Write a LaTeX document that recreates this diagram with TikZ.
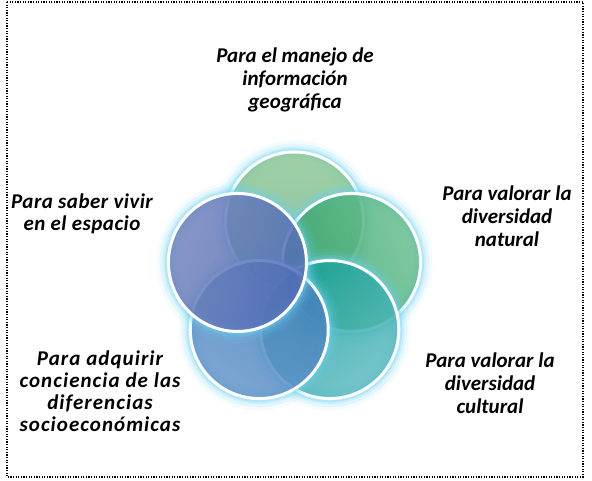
\documentclass[tikz,border=0pt]{standalone}
\usepackage{fontspec}
\setmainfont{Carlito}
\usetikzlibrary{calc}
\definecolor{glowc}{HTML}{6ED3F3}
\definecolor{topout}{HTML}{8FC899}\definecolor{topin}{HTML}{73B786}
\definecolor{urout}{HTML}{6AC092}\definecolor{urin}{HTML}{30A167}
\definecolor{lrout}{HTML}{60BCC2}\definecolor{lrin}{HTML}{18A095}
\definecolor{llout}{HTML}{6596CA}\definecolor{llin}{HTML}{427FBC}
\definecolor{ulout}{HTML}{7284BE}\definecolor{ulin}{HTML}{506AB3}
\tikzset{
  ring/.style={circle, inner sep=0pt, minimum size=138pt,
    preaction={draw=glowc, line width=24pt, draw opacity=0.08},
    preaction={draw=glowc, line width=17pt, draw opacity=0.13},
    preaction={draw=glowc, line width=11pt, draw opacity=0.2},
    preaction={draw=glowc, line width=7pt, draw opacity=0.3},
    shading=axis, fill opacity=0.85, draw=white, draw opacity=1, line width=3pt},
  lbl/.style={align=center, font=\fontsize{21}{23}\selectfont\bfseries\itshape, text=black},
  wlbl/.style={lbl, font=\fontsize{21}{22}\selectfont\bfseries\itshape\addfontfeatures{LetterSpace=5}},
  mlbl/.style={lbl, font=\fontsize{21}{22}\selectfont\bfseries\itshape\addfontfeatures{LetterSpace=2.3}}
}
\begin{document}
\begin{tikzpicture}[x=1pt,y=1pt]
\useasboundingbox (0,0) rectangle (592,480);
\draw[line width=1.3pt, dash pattern=on 1.3pt off 1.3pt] (7,478) rectangle (583,3);
\coordinate (ctr) at (294.5,199);
\node[ring, top color=topout, bottom color=topin, shading angle=0] (c1) at ($(ctr)+(90:60)$) {};
\node[ring, top color=urout, bottom color=urin, shading angle=-72] (c2) at ($(ctr)+(18:60)$) {};
\node[ring, top color=lrout, bottom color=lrin, shading angle=-144] (c3) at ($(ctr)+(-54:60)$) {};
\node[ring, top color=llout, bottom color=llin, shading angle=144] (c4) at ($(ctr)+(234:60)$) {};
\node[ring, top color=ulout, bottom color=ulin, shading angle=72] (c5) at ($(ctr)+(162:60)$) {};
\node[lbl] (t1) at (295,400) {Para el manejo de\\información\\geográfica};
\node[lbl] (t2) at (507,264) {Para valorar la\\diversidad\\natural};
\node[lbl] (t3) at (490,97) {Para valorar la\\diversidad\\cultural};
\node[wlbl] (t4) at (100,89) {Para adquirir\\conciencia de las\\diferencias\\socioeconómicas};
\node[mlbl] (t5) at (82,266) {Para saber vivir\\en el espacio};
\end{tikzpicture}
\end{document}
